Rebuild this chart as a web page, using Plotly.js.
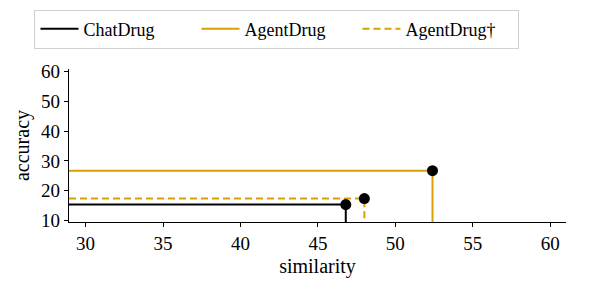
<!DOCTYPE html>
<html>
<head>
<meta charset="utf-8">
<script src="https://cdn.plot.ly/plotly-3.0.1.min.js"></script>
<style>html,body{margin:0;padding:0;background:#fff;}#chart{width:605px;height:290px;}</style>
</head>
<body>
<div id="chart"></div>
<script>
const methods = ["ChatDrug", "AgentDrug", "AgentDrug†"];
const similarity = [46.8, 52.4, 48.0];
const accuracy = [15.3, 26.7, 17.3];
const colors = ["#000000", "#D9A000", "#D9A000"];
const dashes = ["solid", "solid", "7px,4px"];
const xTicks = [30, 35, 40, 45, 50, 55, 60];
const yTicks = [10, 20, 30, 40, 50, 60];
const xRange = [28.93, 61.02];
const yRange = [9.43, 60.9];

const traces = [];
methods.forEach((m, i) => {
  traces.push({
    x: [xRange[0], similarity[i], similarity[i]],
    y: [accuracy[i], accuracy[i], yRange[0]],
    mode: "lines",
    name: m,
    line: {color: colors[i], width: 2, dash: dashes[i]},
    showlegend: true,
    hoverinfo: "skip"
  });
});
traces.push({
  x: similarity,
  y: accuracy,
  mode: "markers",
  marker: {color: "#000000", size: 11},
  showlegend: false,
  cliponaxis: false
});

const font = {family: "Liberation Serif, Times New Roman, serif", color: "#000", size: 18};
const layout = {
  width: 605, height: 290,
  margin: {l: 69, r: 39, t: 69, b: 68},
  paper_bgcolor: "#fff", plot_bgcolor: "#fff",
  font: font,
  xaxis: {
    range: xRange, tickvals: xTicks, ticktext: xTicks.map(String),
    showline: true, linecolor: "#000", linewidth: 1.3, mirror: false,
    ticks: "outside", ticklen: 4, tickwidth: 1, tickcolor: "#000",
    showgrid: false, zeroline: false,
    title: {text: "similarity", font: {size: 20}, standoff: 6},
    tickfont: {size: 19}
  },
  yaxis: {
    range: yRange, tickvals: yTicks, ticktext: yTicks.map(String),
    showline: true, linecolor: "#000", linewidth: 1.3, mirror: false,
    ticks: "outside", ticklen: 4, tickwidth: 1, tickcolor: "#000",
    showgrid: false, zeroline: false,
    title: {text: "accuracy", font: {size: 20}, standoff: 6},
    tickfont: {size: 19}
  },
  legend: {
    orientation: "h", x: 0.057, y: 0.967, xanchor: "left", yanchor: "top",
    xref: "container", yref: "container",
    bordercolor: "#d0d0d0", borderwidth: 1, bgcolor: "#fff",
    font: {size: 18}, itemwidth: 38, entrywidth: 108, entrywidthmode: "pixels"
  },
  showlegend: true
};
Plotly.newPlot("chart", traces, layout, {displayModeBar: false, staticPlot: true});
</script>
</body>
</html>
